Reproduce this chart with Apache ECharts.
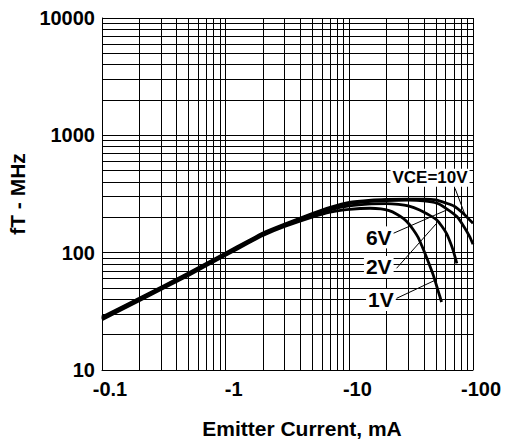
<!DOCTYPE html>
<html>
<head>
<meta charset="utf-8">
<script src="https://cdn.jsdelivr.net/npm/echarts@6/dist/echarts.min.js"></script>
<style>
html,body{margin:0;padding:0;background:#fff;}
#chart{width:505px;height:444px;}
</style>
</head>
<body>
<div id="chart"></div>
<script>
// ---- data (emitter current magnitude in mA, fT in MHz) ----
const xTickValues = [0.1, 1, 10, 100];
const yTickValues = [10, 100, 1000, 10000];

const current10V = [0.1, 0.2, 0.5, 1, 1.5, 2, 3, 5, 7, 10, 15, 20, 30, 40, 50, 61, 70, 83, 100];
const ft10V      = [28.3, 40.8, 67, 99.5, 125, 147, 175, 215, 243, 268, 280, 284, 286, 286, 282, 264, 250, 217, 178];

const current6V = [0.1, 0.2, 0.5, 1, 1.5, 2, 3, 5, 7, 10, 15, 20, 30, 40, 51, 60, 74, 85, 94, 100];
const ft6V      = [27.8, 40.2, 66, 98, 123.5, 145, 173, 212, 239, 262, 274, 278, 280, 276, 264, 240, 203, 165, 137, 118];

const current2V = [0.1, 0.2, 0.5, 1, 1.5, 2, 3, 5, 7, 10, 15, 20, 25, 30, 37, 45, 51, 56, 61, 65, 69, 74];
const ft2V      = [27.3, 39.6, 65, 96.5, 121.5, 143, 171, 208, 232, 250, 260, 262, 258, 250, 231, 207, 190, 168, 146, 125, 105, 81];

const current1V = [0.1, 0.2, 0.5, 1, 1.5, 2, 3, 5, 7, 10, 14.7, 18, 21, 24, 27.3, 30, 33, 36, 38.5, 42, 47.6, 52, 55.7];
const ft1V      = [26.8, 39, 64, 95, 119.5, 140, 167, 201, 222, 234, 239, 236, 228, 214, 196, 178, 156, 135, 115, 92, 65, 48, 38];

// annotation labels: [text, current, fT]
const curveLabels = [
  ['VCE=10V', 44.9, 434],
  ['6V', 17.3, 135],
  ['2V', 17.3, 75.5],
  ['1V', 18, 39.5]
];
// leader lines: [fromCurrent, fromFt, toCurrent, toFt]
const leaderLines = [
  [71.5, 354, 86, 212],
  [21.3, 142, 61.2, 231],
  [24.1, 73.6, 50.8, 178],
  [24.1, 40.8, 49, 58]
];

// ---- helpers ----
function pairs(xs, ys) { return xs.map((x, i) => [x, ys[i]]); }
function logMinor(lo, hi) {
  const out = [];
  for (let d = lo; d < hi; d *= 10) {
    for (let k = 2; k <= 9; k++) out.push(+(d * k).toPrecision(3));
  }
  return out;
}
const xMinor = logMinor(0.1, 100);
const yMinor = logMinor(10, 10000);

const FONT = '"Liberation Sans", Arial, sans-serif';

const chart = echarts.init(document.getElementById('chart'), null, {renderer: 'svg'});

const curveStyle = {color: '#000', width: 2.8};
function curve(name, xs, ys) {
  return {
    name: name, type: 'line', data: pairs(xs, ys),
    showSymbol: false, smooth: 0.2,
    lineStyle: curveStyle, itemStyle: {color: '#000'},
    z: 3, silent: true, animation: false
  };
}

const option = {
  animation: false,
  backgroundColor: '#fff',
  grid: {left: 102, right: 32, top: 18, bottom: 74, containLabel: false, outerBoundsMode: 'none'},
  xAxis: {
    type: 'log', logBase: 10, min: 0.1, max: 100,
    name: 'Emitter Current, mA', nameLocation: 'middle', nameGap: 48,
    nameTextStyle: {fontFamily: FONT, fontWeight: 'bold', fontSize: 21, color: '#000', padding: [0, 0, 0, 29]},
    axisLine: {show: true, lineStyle: {color: '#000', width: 1}},
    axisTick: {show: false},
    axisLabel: {
      fontFamily: FONT, fontWeight: 'bold', fontSize: 20, color: '#000', margin: 9,
      padding: [0, 0, 0, 16],
      formatter: v => xTickValues.some(t => Math.abs(t - v) / t < 1e-6) ? '-' + (+v.toPrecision(3)) : ''
    },
    splitLine: {show: true, lineStyle: {color: '#000', width: 1}}
  },
  yAxis: {
    type: 'log', logBase: 10, min: 10, max: 10000,
    name: 'fT - MHz', nameLocation: 'middle', nameGap: 62,
    nameTextStyle: {fontFamily: FONT, fontWeight: 'bold', fontSize: 21, color: '#000'},
    axisLine: {show: true, lineStyle: {color: '#000', width: 1}},
    axisTick: {show: false},
    axisLabel: {
      fontFamily: FONT, fontWeight: 'bold', fontSize: 20, color: '#000', margin: 7,
      formatter: v => yTickValues.some(t => Math.abs(t - v) / t < 1e-6) ? String(Math.round(v)) : ''
    },
    splitLine: {show: true, lineStyle: {color: '#000', width: 1}}
  },
  series: [
    {
      name: 'grid', type: 'line', data: [], silent: true, z: 1, animation: false,
      markLine: {
        silent: true, animation: false, symbol: ['none', 'none'],
        label: {show: false},
        lineStyle: {color: '#000', width: 1, type: 'solid'},
        emphasis: {disabled: true},
        data: xMinor.map(v => ({xAxis: v})).concat(yMinor.map(v => ({yAxis: v})))
      }
    },
    curve('10V', current10V, ft10V),
    curve('6V', current6V, ft6V),
    curve('2V', current2V, ft2V),
    curve('1V', current1V, ft1V),
    {
      name: 'labels', type: 'line', data: [], silent: true, z: 5, animation: false,
      markLine: {
        silent: true, animation: false, symbol: ['none', 'none'],
        label: {show: false},
        lineStyle: {color: '#000', width: 1, type: 'solid'},
        emphasis: {disabled: true},
        data: leaderLines.map(l => [{coord: [l[0], l[1]]}, {coord: [l[2], l[3]]}])
      },
      markPoint: {
        silent: true, animation: false, symbol: 'circle', symbolSize: 0,
        itemStyle: {color: 'transparent'},
        label: {
          show: true, position: 'inside', color: '#000', fontFamily: FONT, fontWeight: 'bold',
          backgroundColor: '#fff', padding: [1, 2, 0, 2],
          formatter: p => p.name
        },
        data: curveLabels.map(l => ({
          name: l[0], coord: [l[1], l[2]],
          label: {fontSize: l[0].length > 3 ? 17 : 21}
        }))
      }
    }
  ]
};
chart.setOption(option);
</script>
</body>
</html>
